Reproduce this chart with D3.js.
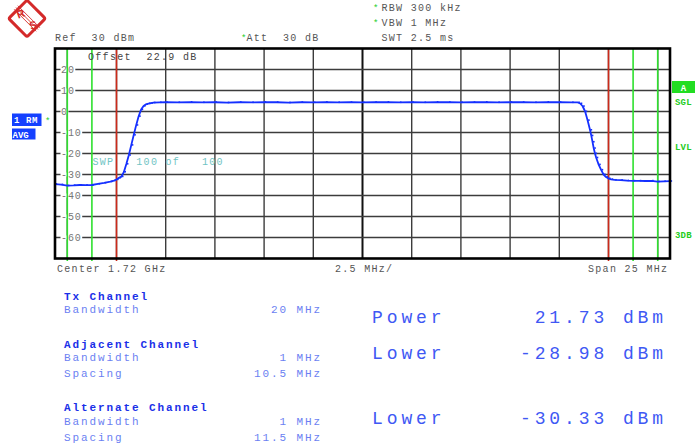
<!DOCTYPE html>
<html><head><meta charset="utf-8">
<script src="https://cdn.jsdelivr.net/npm/d3@7"></script>
<style>body{margin:0;background:#fff}svg{display:block}</style>
</head><body>
<script>
// ---- data ----
const freqsMHz = [-12.5,-12.25,-12.0,-11.75,-11.5,-11.25,-11.0,-10.75,-10.5,-10.25,-10.1,-10.0,-9.9,-9.8,-9.7,-9.6,-9.5,-9.4,-9.3,-9.2,-9.1,-9.0,-8.9,-8.8,-8.7,-8.6,-8.5,
 -8.25,-8.0,-7.5,-7.0,-6.5,-6.0,-5.5,-5.0,-4.5,-4.0,-3.5,-3.0,-2.5,-2.0,-1.5,-1.0,-0.5,0,0.5,1.0,1.5,2.0,2.5,3.0,3.5,4.0,4.5,5.0,5.5,6.0,6.5,7.0,7.5,8.0,8.5,
 8.75,8.85,8.95,9.05,9.15,9.25,9.3,9.35,9.4,9.45,9.5,9.6,9.7,9.8,9.9,10.0,10.1,10.25,10.5,10.75,11.0,11.25,11.5,11.75,12.0,12.25,12.5];
const levelsDbm = [-34.6,-34.8,-35.3,-35.2,-35.0,-35.1,-35.0,-34.5,-34.0,-33.4,-32.9,-32.4,-31.6,-31.0,-28.8,-25.0,-20.8,-16.0,-11.2,-6.5,-2.3,0.9,2.6,3.4,3.8,4.0,4.2,
 4.3,4.4,4.3,4.5,4.3,4.4,4.2,4.4,4.3,4.5,4.4,4.2,4.4,4.3,4.5,4.3,4.4,4.3,4.4,4.5,4.3,4.4,4.3,4.5,4.4,4.3,4.4,4.5,4.3,4.4,4.4,4.3,4.5,4.4,4.3,
 4.3,3.8,2.5,0.0,-4.2,-8.8,-11.5,-14.5,-17.5,-20.0,-22.0,-25.3,-27.8,-30.0,-31.2,-31.9,-32.3,-32.6,-32.7,-32.9,-33.0,-33.0,-33.1,-33.0,-33.4,-33.3,-33.2];
const yTickLabels = [20,10,0,-10,-20,-30,-40,-50,-60];
const redLinesMHz = [-10,10];
const greenLinesMHz = [-12,-11,11,12];
const headerLeft = ["Ref  30 dBm"];
const headerRight = ["RBW 300 kHz","VBW 1 MHz","SWT 2.5 ms"];
const chanLabels = ["Tx Channel","Adjacent Channel","Alternate Channel"];
const chanRows = [["Bandwidth","20 MHz"],["Bandwidth","1 MHz"],["Spacing","10.5 MHz"],["Bandwidth","1 MHz"],["Spacing","11.5 MHz"]];
const results = [["Power","21.73 dBm"],["Lower","-28.98 dBm"],["Lower","-30.33 dBm"]];

// ---- drawing ----
const W=698,H=446;
const svg=d3.select("body").append("svg").attr("width",W).attr("height",H);
svg.append("rect").attr("width",W).attr("height",H).attr("fill","#fff");
const L=55,R=670,T=48.5,B=258.5;
const x=d3.scaleLinear().domain([-12.5,12.5]).range([L,R]);
const y=d3.scaleLinear().domain([-70,30]).range([B,T]);
const mono="'Liberation Mono','DejaVu Sans Mono',monospace";

// logo
const lg=svg.append("g").attr("transform","translate(27,18.5)");
lg.append("rect").attr("x",-13).attr("y",-13).attr("width",26).attr("height",26).attr("rx",2)
  .attr("transform","rotate(45)").attr("fill","#fff").attr("stroke","#d42a2a").attr("stroke-width",3);
[-1.8,0,1.8].forEach(o=>lg.append("line").attr("x1",-11+o).attr("y1",11+o).attr("x2",11+o).attr("y2",-11+o)
  .attr("stroke","#d42a2a").attr("stroke-width",0.9).attr("transform","rotate(90)"));
lg.append("text").attr("x",-6).attr("y",-1).attr("font-family","'Liberation Sans',Arial").attr("font-weight","bold")
  .attr("font-size",11).attr("fill","#d42a2a").attr("text-anchor","middle").attr("transform","rotate(-20,-6,-4)").text("R");
lg.append("text").attr("x",6).attr("y",10.5).attr("font-family","'Liberation Sans',Arial").attr("font-weight","bold")
  .attr("font-size",11).attr("fill","#d42a2a").attr("text-anchor","middle").attr("transform","rotate(-20,6,6)").text("S");

// header
function txt(g,xx,yy,s,opt={}){
  return g.append("text").attr("x",xx).attr("y",yy).attr("font-family",mono)
    .attr("font-size",opt.size||10).attr("letter-spacing",opt.ls!=null?opt.ls:1.3)
    .attr("fill",opt.fill||"#555").attr("font-weight",opt.bold?"bold":"normal")
    .attr("text-anchor",opt.anchor||"start").style("white-space","pre").text(s);
}
txt(svg,55,40.5,headerLeft[0]);
txt(svg,241,40.5,"*",{fill:"#22cc22",size:9});
txt(svg,246.5,40.5,"Att  30 dB");
headerRight.forEach((s,i)=>{
  txt(svg,381.5,[10.5,26,41][i],s);
  if(i<2) txt(svg,373,[10.5,26][i],"*",{fill:"#22cc22",size:9});
});

// grid
const grid=svg.append("g");
x.ticks(10).forEach(v=>{
  if(v<=-12.5||v>=12.5) return;
  grid.append("line").attr("x1",x(v)).attr("x2",x(v)).attr("y1",T).attr("y2",B)
    .attr("stroke",v===0?"#111":"#3c3c3c").attr("stroke-width",v===0?2:1.4);
});
yTickLabels.forEach(v=>{
  grid.append("line").attr("x1",L).attr("x2",R).attr("y1",y(v)).attr("y2",y(v))
    .attr("stroke","#3c3c3c").attr("stroke-width",1.4);
});
// y labels with erased background
yTickLabels.forEach(v=>{
  const t=txt(svg,61,y(v)+3.5,String(v),{fill:"#777",ls:0.9,size:10});
  const w=t.node().getComputedTextLength();
  svg.insert("rect",()=>t.node()).attr("x",60.5).attr("y",y(v)-2).attr("width",w+1).attr("height",4).attr("fill","#fff");
});

// marker lines
greenLinesMHz.forEach(f=>svg.append("line").attr("x1",x(f)).attr("x2",x(f)).attr("y1",T).attr("y2",B+2.5)
  .attr("stroke","#2ee02e").attr("stroke-width",1.6));
redLinesMHz.forEach(f=>svg.append("line").attr("x1",x(f)).attr("x2",x(f)).attr("y1",T).attr("y2",B+2.5)
  .attr("stroke","#cc2a1a").attr("stroke-width",1.6));

// in-plot texts
txt(svg,88,59.5,"Offset  22.9 dB",{fill:"#444"});
txt(svg,92.5,165,"SWP   100 of   100",{fill:"#70c4c4"});

// trace
const pts=freqsMHz.map((f,i)=>[f,levelsDbm[i]]);
svg.append("path").datum(pts).attr("fill","none").attr("stroke","#1530ff").attr("stroke-width",1.8)
  .attr("stroke-linejoin","round")
  .attr("d",d3.line().x(d=>x(d[0])).y(d=>y(d[1])));
svg.append("g").selectAll("rect").data(pts).join("rect")
  .attr("x",d=>x(d[0])+0.5).attr("y",d=>y(d[1])-1).attr("width",1.6).attr("height",1.6).attr("fill","#1530ff");

// border
svg.append("rect").attr("x",L).attr("y",T).attr("width",R-L).attr("height",B-T)
  .attr("fill","none").attr("stroke","#000").attr("stroke-width",2.6);

// bottom axis texts
txt(svg,57,272,"Center 1.72 GHz");
txt(svg,335,272,"2.5 MHz/");
txt(svg,588,272,"Span 25 MHz");

// left status boxes
svg.append("rect").attr("x",12).attr("y",113.5).attr("width",29.5).attr("height",12.5).attr("fill","#1440ff");
txt(svg,14,123,"1 RM",{fill:"#fff",bold:true,size:9,ls:0.6});
txt(svg,45,124,"*",{fill:"#22cc22",size:9});
svg.append("rect").attr("x",12).attr("y",128.5).attr("width",23.5).attr("height",11).attr("fill","#1440ff");
txt(svg,12.5,137.5,"AVG",{fill:"#fff",bold:true,size:9,ls:0});

// right status
svg.append("rect").attr("x",672).attr("y",81).attr("width",23).attr("height",12).attr("fill","#22dd22");
txt(svg,683.5,90.5,"A",{fill:"#fff",bold:true,size:9,ls:0,anchor:"middle"});
[["SGL",105],["LVL",150],["3DB",237.5]].forEach(([s,yy])=>txt(svg,675,yy,s,{fill:"#22cc22",bold:true,size:9,ls:0.2}));

// channel table
const blueBold="#1a30e8", blueLight="#6b7ff2";
const lblY=[300,348,411];
chanLabels.forEach((s,i)=>txt(svg,64,lblY[i],s,{fill:blueBold,bold:true,size:11,ls:1.9}));
const rowY=[313,361,377,425,441];
chanRows.forEach((r,i)=>{
  txt(svg,64,rowY[i],r[0],{fill:blueLight,size:11,ls:1.9});
  txt(svg,322,rowY[i],r[1],{fill:blueLight,size:11,ls:1.9,anchor:"end"});
});
const resY=[322.5,359,423.5];
results.forEach((r,i)=>{
  txt(svg,372,resY[i],r[0],{fill:"#4058f4",size:18,ls:3.9});
  txt(svg,667,resY[i],r[1],{fill:"#4058f4",size:18,ls:3.9,anchor:"end"});
});
</script>
</body></html>
